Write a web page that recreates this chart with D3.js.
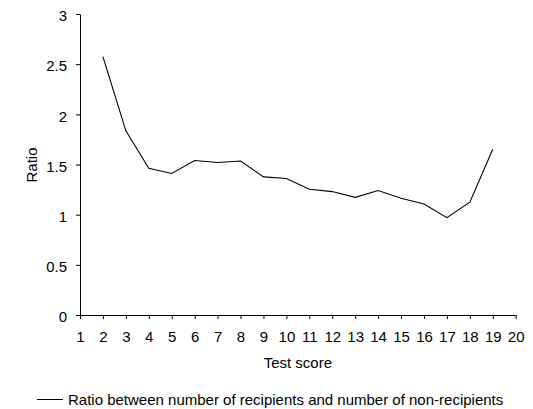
<!DOCTYPE html>
<html>
<head>
<meta charset="utf-8">
<script src="https://cdn.jsdelivr.net/npm/d3@7"></script>
<style>
  body { margin: 0; background: #fff; }
  svg { display: block; }
  text { font-family: "Liberation Sans", Arial, sans-serif; fill: #000; }
</style>
</head>
<body>
<svg id="chart" width="533" height="409"></svg>
<script>
const scores = [2, 3, 4, 5, 6, 7, 8, 9, 10, 11, 12, 13, 14, 15, 16, 17, 18, 19];
const ratios = [2.575, 1.835, 1.463, 1.41, 1.54, 1.52, 1.535, 1.377, 1.36, 1.253, 1.23, 1.173, 1.24, 1.163, 1.107, 0.97, 1.125, 1.652];
const xTicks = d3.range(1, 21);
const yTicks = [0, 0.5, 1, 1.5, 2, 2.5, 3];
const yTickLabels = ["0", "0.5", "1", "1.5", "2", "2.5", "3"];
const seriesName = "Ratio between number of recipients and number of non-recipients";

(function () {
  const svg = d3.select("#chart");
  const mLeft = 80, mRight = 515.7, mTop = 14, mBottom = 315;

  const x = d3.scaleLinear().domain([1, 20]).range([mLeft, mRight]);
  const y = d3.scaleLinear().domain([0, 3]).range([mBottom, mTop]);

  const xAxis = svg.append("g")
    .attr("transform", `translate(0,${mBottom})`)
    .call(d3.axisBottom(x).tickValues(xTicks).tickFormat(d3.format("d")).tickSizeInner(4).tickSizeOuter(0).tickPadding(12));
  const yAxis = svg.append("g")
    .attr("transform", `translate(${mLeft},0)`)
    .call(d3.axisLeft(y).tickValues(yTicks).tickFormat((d, i) => yTickLabels[i]).tickSizeInner(4).tickSizeOuter(0).tickPadding(9));

  [xAxis, yAxis].forEach(g => {
    g.selectAll("path").attr("stroke", "#000").attr("stroke-width", 1);
    g.selectAll("line").attr("stroke", "#000").attr("stroke-width", 1);
    g.selectAll("text").style("font-family", '"Liberation Sans", Arial, sans-serif').style("font-size", "15px").attr("fill", "#000");
  });
  yAxis.selectAll("text").attr("dy", "0.45em");

  const line = d3.line().x((d, i) => x(scores[i])).y(d => y(d));
  svg.append("path")
    .datum(ratios)
    .attr("fill", "none")
    .attr("stroke", "#000")
    .attr("stroke-width", 1.1)
    .attr("d", line);

  svg.append("text")
    .attr("x", (mLeft + mRight) / 2)
    .attr("y", 368)
    .attr("text-anchor", "middle")
    .style("font-size", "15px")
    .text("Test score");

  svg.append("text")
    .attr("transform", `translate(37,165) rotate(-90)`)
    .attr("text-anchor", "middle")
    .style("font-size", "15px")
    .text("Ratio");

  svg.append("line")
    .attr("x1", 37).attr("x2", 63)
    .attr("y1", 399.5).attr("y2", 399.5)
    .attr("stroke", "#000").attr("stroke-width", 1);
  svg.append("text")
    .attr("x", 68)
    .attr("y", 405)
    .style("font-size", "15px")
    .text(seriesName);
})();
</script>
</body>
</html>
